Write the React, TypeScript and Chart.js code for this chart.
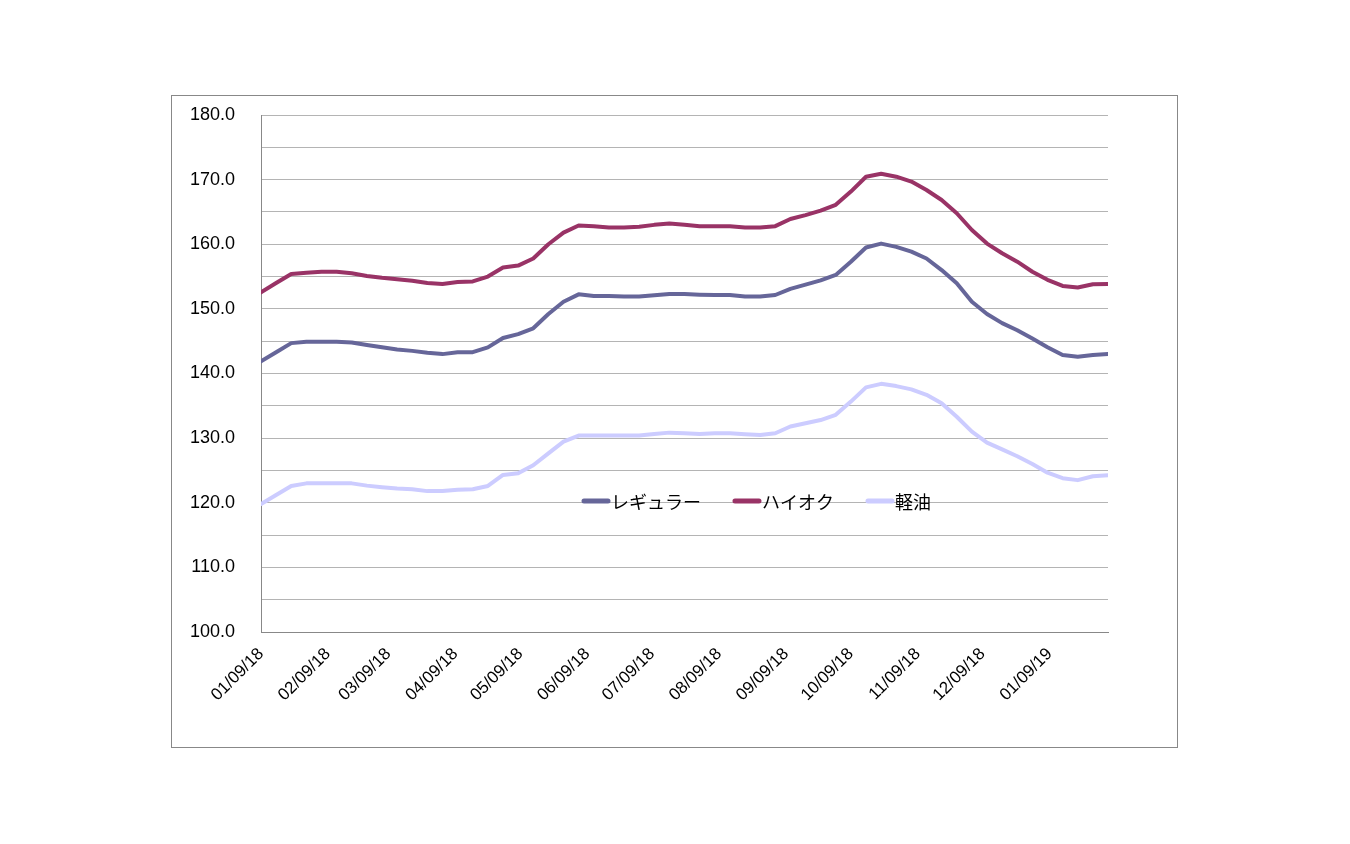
import React, { useEffect, useRef } from 'react';
import { Chart, registerables } from 'chart.js';

Chart.register(...registerables);

// Survey dates as day offsets from 2018-01-09 (weekly)
const dayOffsets = [
  0, 7, 14, 21, 28, 35, 42, 49, 56, 63, 70, 77, 84, 91, 98, 105, 112, 119, 126,
  133, 140, 147, 154, 161, 168, 175, 182, 189, 196, 203, 210, 217, 224, 231, 238,
  245, 252, 259, 266, 273, 280, 287, 294, 301, 308, 315, 322, 329, 336, 343, 350,
  357, 364, 371, 378, 385, 392,
];

// Monthly tick positions (day offsets) and their labels
const tickDays = [0, 31, 59, 90, 120, 151, 181, 212, 243, 273, 304, 334, 365];
const tickLabels = [
  '01/09/18', '02/09/18', '03/09/18', '04/09/18', '05/09/18', '06/09/18',
  '07/09/18', '08/09/18', '09/09/18', '10/09/18', '11/09/18', '12/09/18',
  '01/09/19',
];

const seriesNames = ['レギュラー', 'ハイオク', '軽油'];

const regular = [
  141.9, 143.3, 144.7, 144.9, 144.9, 144.9, 144.8, 144.4, 144.05, 143.7, 143.5,
  143.2, 143.0, 143.3, 143.3, 144.05, 145.5, 146.1, 147.0, 149.2, 151.1, 152.25,
  152.0, 152.0, 151.9, 151.9, 152.1, 152.3, 152.3, 152.2, 152.15, 152.15, 151.9,
  151.9, 152.15, 153.1, 153.75, 154.4, 155.25, 157.3, 159.5, 160.1, 159.6, 158.85,
  157.8, 156.0, 153.95, 151.1, 149.2, 147.8, 146.7, 145.4, 144.05, 142.85, 142.6,
  142.85, 143.0,
];

const highOctane = [
  152.55, 154.0, 155.4, 155.6, 155.75, 155.75, 155.5, 155.1, 154.8, 154.6, 154.35,
  154.0, 153.85, 154.15, 154.25, 155.0, 156.4, 156.7, 157.8, 160.0, 161.8, 162.9,
  162.8, 162.6, 162.6, 162.7, 163.0, 163.2, 163.0, 162.8, 162.8, 162.8, 162.6,
  162.6, 162.8, 163.9, 164.5, 165.2, 166.1, 168.15, 170.45, 170.9, 170.45, 169.7,
  168.4, 166.85, 164.8, 162.2, 160.1, 158.6, 157.3, 155.75, 154.5, 153.55, 153.3,
  153.8, 153.85,
];

const diesel = [
  119.8, 121.2, 122.6, 123.0, 123.0, 123.0, 123.0, 122.65, 122.4, 122.2, 122.1,
  121.8, 121.8, 122.0, 122.1, 122.6, 124.3, 124.55, 125.8, 127.65, 129.45, 130.4,
  130.4, 130.4, 130.4, 130.4, 130.65, 130.85, 130.75, 130.65, 130.75, 130.75, 130.6,
  130.5, 130.75, 131.8, 132.3, 132.8, 133.6, 135.65, 137.85, 138.4, 138.05, 137.55,
  136.7, 135.4, 133.3, 131.0, 129.3, 128.25, 127.2, 126.0, 124.65, 123.8, 123.5,
  124.1, 124.25,
];

const seriesColors = ['#666699', '#993366', '#CCCCFF'];

const toPoints = (vals: number[]) => vals.map((v, i) => ({ x: dayOffsets[i], y: v }));

const insideLegend = {
  id: 'insideLegend',
  afterDraw(chart: any) {
    const ctx = chart.ctx as CanvasRenderingContext2D;
    const area = chart.chartArea;
    let x = area.left + 321;
    const y = area.top + 386;
    ctx.save();
    ctx.font = '18px "Noto Sans CJK JP"';
    ctx.textBaseline = 'middle';
    ctx.textAlign = 'left';
    chart.data.datasets.forEach((ds: any) => {
      ctx.strokeStyle = ds.borderColor;
      ctx.lineWidth = 5;
      ctx.lineCap = 'round';
      ctx.beginPath();
      ctx.moveTo(x + 2, y);
      ctx.lineTo(x + 26, y);
      ctx.stroke();
      ctx.fillStyle = '#000';
      ctx.fillText(ds.label, x + 29, y + 1);
      x += 29 + ctx.measureText(ds.label).width + 32;
    });
    ctx.restore();
  },
};

export default function App() {
  const ref = useRef<HTMLCanvasElement | null>(null);

  useEffect(() => {
    if (!ref.current) return;
    const chart = new Chart(ref.current, {
      type: 'line',
      data: {
        datasets: [
          { label: seriesNames[0], data: toPoints(regular), borderColor: seriesColors[0] },
          { label: seriesNames[1], data: toPoints(highOctane), borderColor: seriesColors[1] },
          { label: seriesNames[2], data: toPoints(diesel), borderColor: seriesColors[2] },
        ].map((d) => ({
          ...d,
          backgroundColor: d.borderColor,
          borderWidth: 4,
          pointRadius: 0,
          pointHoverRadius: 0,
          tension: 0,
          borderJoinStyle: 'round' as const,
          borderCapStyle: 'round' as const,
          fill: false,
        })),
      },
      options: {
        responsive: false,
        animation: false,
        layout: { padding: { top: 19, right: 69, left: 0, bottom: 0 } },
        plugins: {
          legend: { display: false },
          tooltip: { enabled: false },
        },
        scales: {
          x: {
            type: 'linear',
            min: 0,
            max: 392,
            afterBuildTicks: (scale: any) => {
              scale.ticks = tickDays.map((v) => ({ value: v }));
            },
            afterFit: (scale: any) => {
              scale.height = 115;
            },
            grid: { display: false },
            border: { display: true, color: '#888888', width: 1 },
            ticks: {
              autoSkip: false,
              maxRotation: 45,
              minRotation: 45,
              padding: 4,
              color: '#000',
              font: { family: '"Liberation Sans", Arial, sans-serif', size: 17 },
              callback: (_v: any, i: number) => tickLabels[i],
            },
          },
          y: {
            type: 'linear',
            min: 100,
            max: 180,
            afterFit: (scale: any) => {
              scale.width = 89;
            },
            grid: {
              color: '#b4b4b4',
              lineWidth: 1,
              drawTicks: true,
              tickLength: 26,
              tickColor: 'rgba(0,0,0,0)',
            },
            border: { display: true, color: '#888888', width: 1 },
            ticks: {
              stepSize: 5,
              autoSkip: false,
              padding: 0,
              color: '#000',
              font: { family: '"Liberation Sans", Arial, sans-serif', size: 18 },
              callback: (v: any) => (Number(v) % 10 === 0 ? Number(v).toFixed(1) : ''),
            },
          },
        },
      },
      plugins: [insideLegend],
    });
    return () => chart.destroy();
  }, []);

  return (
    <div
      style={{
        position: 'absolute',
        left: 171,
        top: 95,
        width: 1005,
        height: 651,
        border: '1px solid #888888',
        background: '#fff',
      }}
    >
      <canvas ref={ref} width={1005} height={651} style={{ display: 'block', width: 1005, height: 651 }} />
    </div>
  );
}
